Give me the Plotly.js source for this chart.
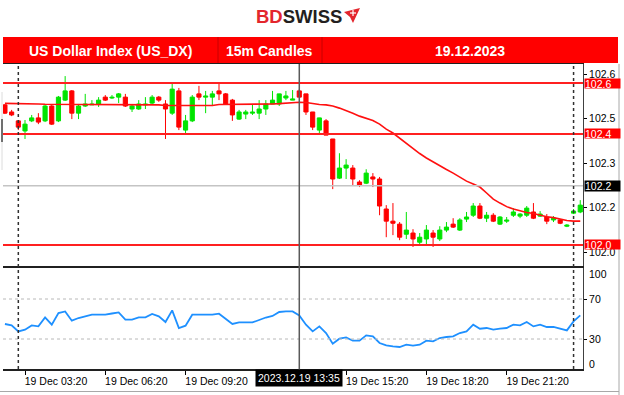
<!DOCTYPE html>
<html>
<head>
<meta charset="utf-8">
<script src="https://cdn.plot.ly/plotly-3.0.1.min.js"></script>
<style>
  html, body { margin: 0; padding: 0; background: #fff; }
  #chart { width: 624px; height: 395px; }
</style>
</head>
<body>
<div id="chart"></div>
<script>
// US Dollar Index (US_DX), 15-minute candles, 19.12.2023 — first bar opens 02:35
const firstBarMinute = 2 * 60 + 35;
const barMinutes = 15;

const open = [
  102.546, 102.522, 102.492, 102.458, 102.492, 102.502, 102.492, 102.542, 102.492, 102.562,
  102.593, 102.518, 102.542, 102.546, 102.549, 102.572, 102.569, 102.572, 102.572, 102.532,
  102.532, 102.546, 102.552, 102.572, 102.549, 102.518, 102.593, 102.461, 102.492, 102.583,
  102.572, 102.572, 102.593, 102.583, 102.562, 102.498, 102.515, 102.518, 102.518, 102.532,
  102.549, 102.549, 102.569, 102.562, 102.593, 102.583, 102.522, 102.461, 102.492, 102.431,
  102.299, 102.333, 102.333, 102.286, 102.282, 102.303, 102.296, 102.195, 102.154, 102.144,
  102.110, 102.114, 102.083, 102.094, 102.114, 102.094, 102.124, 102.144, 102.124, 102.161,
  102.174, 102.205, 102.164, 102.174, 102.144, 102.154, 102.174, 102.171, 102.174, 102.185,
  102.171, 102.168, 102.158, 102.158, 102.137, 102.181, 102.185
];
const high = [
  102.549, 102.529, 102.495, 102.495, 102.512, 102.518, 102.546, 102.546, 102.576, 102.643,
  102.596, 102.549, 102.583, 102.562, 102.572, 102.579, 102.579, 102.586, 102.583, 102.549,
  102.562, 102.572, 102.579, 102.576, 102.562, 102.620, 102.603, 102.512, 102.579, 102.610,
  102.593, 102.593, 102.620, 102.586, 102.566, 102.529, 102.529, 102.549, 102.562, 102.562,
  102.593, 102.583, 102.593, 102.596, 102.599, 102.583, 102.522, 102.502, 102.498, 102.431,
  102.383, 102.363, 102.343, 102.292, 102.329, 102.316, 102.303, 102.208, 102.215, 102.151,
  102.185, 102.127, 102.114, 102.141, 102.124, 102.137, 102.151, 102.164, 102.164, 102.185,
  102.215, 102.215, 102.185, 102.181, 102.171, 102.168, 102.198, 102.181, 102.205, 102.215,
  102.188, 102.178, 102.171, 102.161, 102.144, 102.195, 102.225
];
const low = [
  102.515, 102.508, 102.461, 102.431, 102.488, 102.481, 102.488, 102.478, 102.488, 102.559,
  102.498, 102.498, 102.539, 102.546, 102.539, 102.559, 102.566, 102.552, 102.539, 102.522,
  102.529, 102.532, 102.549, 102.556, 102.431, 102.512, 102.461, 102.451, 102.488, 102.562,
  102.518, 102.542, 102.562, 102.546, 102.492, 102.495, 102.498, 102.512, 102.498, 102.512,
  102.549, 102.542, 102.562, 102.562, 102.572, 102.512, 102.461, 102.451, 102.444, 102.262,
  102.296, 102.296, 102.276, 102.269, 102.279, 102.269, 102.174, 102.100, 102.107, 102.090,
  102.094, 102.067, 102.073, 102.073, 102.067, 102.087, 102.117, 102.131, 102.121, 102.151,
  102.168, 102.161, 102.151, 102.151, 102.141, 102.148, 102.168, 102.164, 102.168, 102.161,
  102.168, 102.144, 102.151, 102.144, 102.134, 102.178, 102.181
];
const close = [
  102.518, 102.512, 102.471, 102.481, 102.502, 102.488, 102.542, 102.481, 102.572, 102.593,
  102.518, 102.542, 102.549, 102.549, 102.562, 102.562, 102.572, 102.583, 102.542, 102.542,
  102.549, 102.549, 102.572, 102.562, 102.532, 102.599, 102.471, 102.492, 102.572, 102.572,
  102.576, 102.583, 102.583, 102.549, 102.512, 102.522, 102.522, 102.522, 102.532, 102.549,
  102.562, 102.583, 102.576, 102.566, 102.572, 102.522, 102.471, 102.502, 102.444, 102.296,
  102.333, 102.343, 102.296, 102.276, 102.316, 102.296, 102.205, 102.154, 102.147, 102.100,
  102.124, 102.094, 102.100, 102.124, 102.100, 102.124, 102.134, 102.134, 102.158, 102.168,
  102.205, 102.164, 102.174, 102.154, 102.168, 102.158, 102.185, 102.178, 102.198, 102.164,
  102.178, 102.154, 102.164, 102.147, 102.141, 102.188, 102.208
];
// moving average overlaid on the candles
const movingAvg = [
  102.551, 102.551, 102.551, 102.550, 102.550, 102.549, 102.548, 102.548, 102.547, 102.547,
  102.547, 102.547, 102.547, 102.546, 102.546, 102.546, 102.546, 102.546, 102.546, 102.546,
  102.546, 102.546, 102.546, 102.546, 102.544, 102.544, 102.544, 102.544, 102.544, 102.542,
  102.542, 102.544, 102.547, 102.547, 102.547, 102.547, 102.547, 102.547, 102.547, 102.549,
  102.549, 102.550, 102.552, 102.554, 102.555, 102.554, 102.550, 102.547, 102.546, 102.542,
  102.535, 102.527, 102.518, 102.508, 102.501, 102.493, 102.481, 102.464, 102.451, 102.434,
  102.417, 102.397, 102.382, 102.367, 102.353, 102.340, 102.328, 102.316, 102.303, 102.289,
  102.279, 102.269, 102.249, 102.228, 102.215, 102.203, 102.195, 102.188, 102.183, 102.180,
  102.174, 102.169, 102.166, 102.161, 102.156, 102.154, 102.154
];
// RSI of the closes
const rsi = [
  45, 43.6, 37.6, 39.3, 43.6, 42.6, 51.6, 44.3, 56, 57.6,
  48.3, 51, 52.6, 54.3, 54.3, 54.3, 55.5, 56.6, 49.3, 49.3,
  51.6, 51.6, 55, 52.6, 47, 58.6, 41, 43.3, 54.3, 54.3,
  54.3, 54.3, 55.3, 50.3, 45, 46.6, 46.6, 46.6, 49, 51.5,
  53, 57, 57.6, 57.6, 53.5, 44.3, 37.6, 42.6, 36, 25.3,
  30.3, 31.6, 28.3, 28.3, 33.6, 32.6, 26, 23.6, 22.6, 22,
  24.3, 23.3, 24.3, 28.3, 27.6, 31, 32, 32.6, 36, 37.6,
  44.3, 40.3, 41, 39.3, 40.3, 41, 44.3, 43.6, 47, 42.6,
  44.3, 42, 42, 40.3, 38.6, 47.6, 53.6
];

const levels = [102.620, 102.448, 102.074];      // horizontal level lines
const bidPrice = 102.273;                         // current bid line
const priceTicks = [102.65, 102.50, 102.35, 102.20, 102.05];
const rsiLevels = [70, 30];
const rsiBounds = [100, 0];
const timeTicks = ['03:20', '06:20', '09:20', '12:20', '15:20', '18:20', '21:20'];
const cursorTime = '13:35';
const cursorLabel = '2023.12.19 13:35';
const separatorTimes = ['03:05', '23:50'];
const headerCells = ['US Dollar Index (US_DX)', '15m Candles', '19.12.2023'];

// ---------------------------------------------------------------------------
const GREEN = '#00e400', RED = '#ff0000';
const n = close.length;
const times = [];
for (let i = 0; i < n; i++) {
  const m = (firstBarMinute + i * barMinutes) % 1440;
  times.push(String(Math.floor(m / 60)).padStart(2, '0') + ':' + String(m % 60).padStart(2, '0'));
}
const xs = times.map((_, i) => i);
const at = t => times.indexOf(t);
const trunc = v => v.toFixed(3).slice(0, 5);   // terminal-style clipped price text

function wicks(up) {
  const x = [], y = [];
  for (let i = 0; i < n; i++) {
    if ((close[i] >= open[i]) === up) { x.push(i, i, null); y.push(low[i], high[i], null); }
  }
  return { x, y };
}
function bodies(up) {
  const x = [], base = [], h = [];
  for (let i = 0; i < n; i++) {
    if ((close[i] >= open[i]) === up) {
      x.push(i); base.push(Math.min(open[i], close[i])); h.push(Math.abs(close[i] - open[i]));
    }
  }
  return { x, base, h };
}

// page geometry helpers (pixel -> paper)
const W = 624, H = 395, ML = 3, MR = 41;
const px = x => (x - ML) / (W - ML - MR);
const py = y => (H - y) / H;

const FONT = 'Liberation Sans, Arial, sans-serif';
const tickFont = { family: FONT, size: 10.5, color: '#000' };

const traces = [];
[true, false].forEach(up => {
  const w = wicks(up);
  traces.push({ type: 'scatter', mode: 'lines', x: w.x, y: w.y, xaxis: 'x2', yaxis: 'y',
    line: { color: up ? GREEN : RED, width: 1 }, hoverinfo: 'skip', showlegend: false });
});
[true, false].forEach(up => {
  const b = bodies(up);
  traces.push({ type: 'bar', x: b.x, y: b.h, base: b.base, width: 0.62, xaxis: 'x2', yaxis: 'y',
    marker: { color: up ? GREEN : RED, line: { color: up ? GREEN : RED, width: 1 } },
    hoverinfo: 'skip', showlegend: false });
});
traces.push({ type: 'scatter', mode: 'lines', x: xs, y: movingAvg, xaxis: 'x2', yaxis: 'y',
  line: { color: '#ff1010', width: 1.6 }, hoverinfo: 'skip', showlegend: false });
traces.push({ type: 'scatter', mode: 'lines', x: xs, y: rsi, xaxis: 'x', yaxis: 'y2',
  line: { color: '#1e90ff', width: 1.8 }, hoverinfo: 'skip', showlegend: false });

const shapes = [];
const annotations = [];

// level lines with red price tags on the right scale
levels.forEach(v => {
  shapes.push({ type: 'line', xref: 'paper', yref: 'y', x0: 0, x1: 1, y0: v, y1: v,
    line: { color: '#ff2020', width: 2 } });
  annotations.push({ xref: 'paper', yref: 'y', x: 1, y: v, xanchor: 'left', yanchor: 'middle',
    xshift: 1, yshift: v > 102.6 ? -1 : 0, text: trunc(v), showarrow: false, bgcolor: RED,
    borderpad: 0, width: 35, height: 9,
    align: 'left', font: { family: FONT, size: 10.5, color: '#fff' } });
});
// bid line
shapes.push({ type: 'line', xref: 'paper', yref: 'y', x0: 0, x1: 1, y0: bidPrice, y1: bidPrice,
  line: { color: '#c4c4c4', width: 1.5 } });
annotations.push({ xref: 'paper', yref: 'y', x: 1, y: bidPrice, xanchor: 'left', yanchor: 'middle',
  xshift: 1, text: trunc(bidPrice), showarrow: false, bgcolor: '#000', borderpad: 0, width: 35, height: 10,
  align: 'left', font: { family: FONT, size: 10.5, color: '#fff' } });

// RSI levels
rsiLevels.forEach(v => {
  shapes.push({ type: 'line', xref: 'paper', yref: 'y2', x0: 0, x1: 1, y0: v, y1: v,
    line: { color: '#b8b8b8', width: 1, dash: 'dot' } });
});
rsiBounds.forEach(v => {
  annotations.push({ xref: 'paper', yref: 'y2', x: 1, y: v, xanchor: 'left', yanchor: 'middle',
    xshift: 4, yshift: v > 50 ? -5 : 5, text: String(v), showarrow: false, font: tickFont });
});

// period separators and cursor line through both panes
separatorTimes.forEach(t => {
  shapes.push({ type: 'line', xref: 'x', yref: 'paper', x0: at(t), x1: at(t), y0: py(369), y1: py(64),
    line: { color: '#303030', width: 1.5, dash: 'dot' } });
});
shapes.push({ type: 'line', xref: 'x', yref: 'paper', x0: at(cursorTime), x1: at(cursorTime),
  y0: py(371), y1: py(64), line: { color: '#5a5a5a', width: 1.5 } });
annotations.push({ xref: 'x', yref: 'paper', x: at(cursorTime), y: py(378), xanchor: 'center', yanchor: 'middle',
  text: cursorLabel, showarrow: false, bgcolor: '#000', borderpad: 2,
  font: { family: FONT, size: 10.5, color: '#fff' } });

// window frame lines
shapes.push({ type: 'line', xref: 'paper', yref: 'paper', x0: px(619), x1: px(619), y0: py(395), y1: py(64),
  line: { color: '#a8a8a8', width: 1 } });
shapes.push({ type: 'line', xref: 'paper', yref: 'paper', x0: px(0), x1: px(619), y0: py(391.5), y1: py(391.5),
  line: { color: '#a8a8a8', width: 1 } });
shapes.push({ type: 'line', xref: 'paper', yref: 'paper', x0: px(2), x1: px(2), y0: py(170), y1: py(92),
  line: { color: '#dcdcdc', width: 1 } });
shapes.push({ type: 'line', xref: 'paper', yref: 'paper', x0: px(2), x1: px(2), y0: py(142), y1: py(119),
  line: { color: '#707070', width: 2 } });

// header bar
shapes.push({ type: 'rect', xref: 'paper', yref: 'paper', x0: px(3), x1: px(618), y0: py(63), y1: py(37),
  fillcolor: '#ff0000', line: { width: 0 }, layer: 'above' });
[218, 322].forEach(x => shapes.push({ type: 'line', xref: 'paper', yref: 'paper', x0: px(x), x1: px(x),
  y0: py(63), y1: py(37), line: { color: '#c80000', width: 1 }, layer: 'above' }));
[110, 269, 470].forEach((x, i) => annotations.push({ xref: 'paper', yref: 'paper', x: px(x), y: py(50.5),
  xanchor: 'center', yanchor: 'middle', text: '<b>' + headerCells[i] + '</b>', showarrow: false,
  font: { family: FONT, size: 14, color: '#fff' } }));

// logo
annotations.push({ xref: 'paper', yref: 'paper', x: px(254), y: py(16.5), xanchor: 'left', yanchor: 'middle',
  text: '<b><span style="color:#e3262d">BD</span><span style="color:#231f20">SWISS</span></b>',
  showarrow: false, font: { family: FONT, size: 18.5 } });
shapes.push({ type: 'path', xref: 'paper', yref: 'paper', fillcolor: '#e3262d', line: { width: 0 },
  path: `M ${px(344)} ${py(12)} L ${px(360)} ${py(8)} L ${px(353)} ${py(23)} L ${px(350)} ${py(17)} Z` });
shapes.push({ type: 'line', xref: 'paper', yref: 'paper', x0: px(350), x1: px(356), y0: py(13), y1: py(13),
  line: { color: '#fff', width: 1.2 } });
shapes.push({ type: 'line', xref: 'paper', yref: 'paper', x0: px(353), x1: px(353), y0: py(10), y1: py(16),
  line: { color: '#fff', width: 1.2 } });

const xRange = [-0.29, 86.41];
const layout = {
  width: W, height: H,
  margin: { l: ML, r: MR, t: 0, b: 0, pad: 0 },
  paper_bgcolor: '#fff', plot_bgcolor: '#fff',
  showlegend: false, bargap: 0,
  xaxis: {
    anchor: 'y2', range: xRange, showgrid: false, zeroline: false,
    showline: true, mirror: true, linecolor: '#202020', linewidth: 1.5,
    tickvals: timeTicks.map(at),
    // the 12:20 slot sits under the cursor time tag
    ticktext: timeTicks.map(t => t === '12:20' ? '' : '19 Dec ' + t),
    ticks: 'outside', ticklen: 4, tickcolor: '#000', tickfont: tickFont,
    ticklabelshift: 31, ticklabelstandoff: -2
  },
  xaxis2: {
    anchor: 'y', matches: 'x', range: xRange, showgrid: false, zeroline: false,
    showline: true, mirror: true, linecolor: '#202020', linewidth: 1.5, showticklabels: false, ticks: ''
  },
  yaxis: {
    domain: [py(266), py(64)], side: 'right', range: [102.0029, 102.6837],
    showgrid: false, zeroline: false, showline: true, linecolor: '#404040', linewidth: 1,
    tickvals: priceTicks, ticktext: priceTicks.map(trunc),
    ticks: 'outside', ticklen: 3, tickcolor: '#000', tickfont: tickFont
  },
  yaxis2: {
    domain: [py(369), py(268)], side: 'right', range: [0, 101],
    showgrid: false, zeroline: false, showline: true, linecolor: '#404040', linewidth: 1,
    tickvals: rsiLevels, ticktext: rsiLevels.map(String),
    ticks: 'outside', ticklen: 3, tickcolor: '#000', tickfont: tickFont
  },
  shapes, annotations
};

Plotly.newPlot('chart', traces, layout, { staticPlot: true, displayModeBar: false });
</script>
</body>
</html>
